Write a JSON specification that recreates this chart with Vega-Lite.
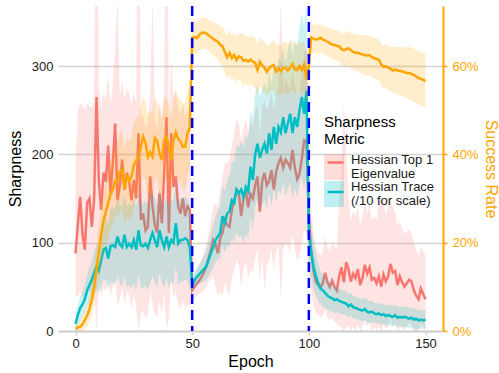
{
"$schema": "https://vega.github.io/schema/vega-lite/v6.json",
"width": 385, "height": 325,
"autosize": "none",
"padding": {"left": 58, "top": 6, "right": 56, "bottom": 42},
"background": "white",
"config": {
  "font": "Liberation Sans",
  "view": {"stroke": null},
  "axis": {"labelFont": "Liberation Sans", "titleFont": "Liberation Sans", "labelFontSize": 13, "titleFontSize": 16, "titleFontWeight": "normal", "labelColor": "#1a1a1a", "titleColor": "#000000"},
  "legend": {"labelFont": "Liberation Sans", "titleFont": "Liberation Sans", "labelFontSize": 13, "titleFontSize": 15, "titleFontWeight": "normal", "labelColor": "#1a1a1a", "titleColor": "#000000", "padding": 0, "rowPadding": 0, "titlePadding": 10, "labelOffset": 7}
},
"data": {"values": [
{"e":0,"t":88,"tl":40,"th":190,"r":8,"rl":0,"rh":18,"s":0.5,"sl":0,"sh":1.5},
{"e":1,"t":120,"tl":40,"th":250,"r":18,"rl":6,"rh":30,"s":0.8,"sl":0,"sh":2},
{"e":2,"t":152,"tl":45,"th":258,"r":26,"rl":12,"rh":40,"s":1,"sl":0,"sh":2.5},
{"e":3,"t":110,"tl":38,"th":255,"r":30,"rl":16,"rh":44,"s":1.5,"sl":0,"sh":3.5},
{"e":4,"t":92,"tl":35,"th":250,"r":36,"rl":20,"rh":52,"s":2.5,"sl":0.5,"sh":4.5},
{"e":5,"t":145,"tl":42,"th":258,"r":46,"rl":28,"rh":64,"s":3.5,"sl":1,"sh":6},
{"e":6,"t":150,"tl":45,"th":255,"r":52,"rl":32,"rh":72,"s":5,"sl":2,"sh":8},
{"e":7,"t":118,"tl":40,"th":252,"r":58,"rl":36,"rh":80,"s":7,"sl":3.5,"sh":10.5},
{"e":8,"t":150,"tl":45,"th":262,"r":66,"rl":42,"rh":90,"s":10,"sl":6,"sh":14},
{"e":9,"t":265,"tl":0,"th":600,"r":73,"rl":48,"rh":98,"s":14,"sl":9,"sh":19},
{"e":10,"t":170,"tl":55,"th":275,"r":68,"rl":42,"rh":96,"s":18,"sl":12,"sh":24},
{"e":11,"t":137,"tl":40,"th":250,"r":80,"rl":50,"rh":110,"s":22,"sl":15,"sh":29},
{"e":12,"t":179,"tl":50,"th":270,"r":92,"rl":58,"rh":126,"s":25,"sl":18,"sh":32},
{"e":13,"t":169,"tl":45,"th":262,"r":94,"rl":58,"rh":130,"s":27,"sl":20,"sh":34},
{"e":14,"t":210,"tl":60,"th":290,"r":82,"rl":46,"rh":120,"s":29,"sl":21,"sh":37},
{"e":15,"t":156,"tl":40,"th":258,"r":96,"rl":56,"rh":138,"s":31,"sl":23,"sh":39},
{"e":16,"t":190,"tl":50,"th":280,"r":97,"rl":55,"rh":140,"s":32,"sl":24,"sh":40},
{"e":17,"t":235,"tl":60,"th":320,"r":95,"rl":52,"rh":138,"s":34,"sl":26,"sh":42},
{"e":18,"t":148,"tl":30,"th":380,"r":107,"rl":62,"rh":150,"s":34,"sl":26,"sh":42.5},
{"e":19,"t":165,"tl":35,"th":265,"r":98,"rl":54,"rh":142,"s":36,"sl":27,"sh":45},
{"e":20,"t":194,"tl":50,"th":285,"r":95,"rl":50,"rh":140,"s":36.5,"sl":28,"sh":45},
{"e":21,"t":160,"tl":30,"th":262,"r":109,"rl":62,"rh":155,"s":32,"sl":24,"sh":41},
{"e":22,"t":179,"tl":45,"th":275,"r":95,"rl":50,"rh":140,"s":35,"sl":26,"sh":44},
{"e":23,"t":170,"tl":40,"th":270,"r":99,"rl":52,"rh":145,"s":34,"sl":25,"sh":43},
{"e":24,"t":148,"tl":25,"th":255,"r":95,"rl":48,"rh":142,"s":35,"sl":26,"sh":44},
{"e":25,"t":171,"tl":40,"th":270,"r":103,"rl":55,"rh":150,"s":37.5,"sl":28,"sh":47},
{"e":26,"t":150,"tl":28,"th":258,"r":92,"rl":45,"rh":140,"s":38.7,"sl":30,"sh":48},
{"e":27,"t":224,"tl":0,"th":600,"r":114,"rl":65,"rh":162,"s":39,"sl":30,"sh":48.5},
{"e":28,"t":126,"tl":20,"th":240,"r":97,"rl":50,"rh":145,"s":41.7,"sl":33,"sh":51},
{"e":29,"t":133,"tl":22,"th":245,"r":96,"rl":48,"rh":144,"s":44,"sl":35,"sh":53},
{"e":30,"t":114,"tl":15,"th":230,"r":99,"rl":52,"rh":148,"s":42.6,"sl":34,"sh":52},
{"e":31,"t":118,"tl":18,"th":235,"r":94,"rl":46,"rh":142,"s":39.4,"sl":30,"sh":49},
{"e":32,"t":175,"tl":45,"th":270,"r":103,"rl":55,"rh":152,"s":40.5,"sl":31,"sh":50},
{"e":33,"t":141,"tl":30,"th":380,"r":111,"rl":62,"rh":160,"s":39.5,"sl":30,"sh":49},
{"e":34,"t":120,"tl":20,"th":240,"r":103,"rl":55,"rh":150,"s":43.7,"sl":35,"sh":53},
{"e":35,"t":111,"tl":15,"th":230,"r":95,"rl":48,"rh":142,"s":43,"sl":34,"sh":52},
{"e":36,"t":156,"tl":35,"th":262,"r":114,"rl":66,"rh":162,"s":40.3,"sl":31,"sh":50},
{"e":37,"t":122,"tl":20,"th":240,"r":103,"rl":55,"rh":150,"s":38.7,"sl":30,"sh":48},
{"e":38,"t":179,"tl":45,"th":275,"r":95,"rl":48,"rh":142,"s":43.2,"sl":34,"sh":52.5},
{"e":39,"t":242,"tl":0,"th":600,"r":107,"rl":60,"rh":154,"s":44,"sl":35,"sh":53},
{"e":40,"t":111,"tl":15,"th":232,"r":95,"rl":48,"rh":142,"s":41.7,"sl":32,"sh":51.5},
{"e":41,"t":224,"tl":60,"th":310,"r":103,"rl":56,"rh":150,"s":38.7,"sl":30,"sh":48},
{"e":42,"t":163,"tl":38,"th":265,"r":100,"rl":52,"rh":148,"s":43.2,"sl":34,"sh":52.5},
{"e":43,"t":175,"tl":45,"th":272,"r":122,"rl":74,"rh":170,"s":45,"sl":36,"sh":54.5},
{"e":44,"t":141,"tl":30,"th":250,"r":99,"rl":52,"rh":146,"s":43.5,"sl":34,"sh":53},
{"e":45,"t":133,"tl":25,"th":245,"r":103,"rl":56,"rh":150,"s":43,"sl":34,"sh":52.5},
{"e":46,"t":150,"tl":35,"th":258,"r":103,"rl":56,"rh":150,"s":41.7,"sl":32,"sh":51.5},
{"e":47,"t":130,"tl":25,"th":242,"r":105,"rl":58,"rh":152,"s":41.7,"sl":32,"sh":51.5},
{"e":48,"t":141,"tl":30,"th":250,"r":103,"rl":56,"rh":150,"s":44.8,"sl":35.5,"sh":54.5},
{"e":49,"t":137,"tl":28,"th":248,"r":95,"rl":48,"rh":142,"s":46,"sl":37,"sh":56},
{"e":50,"t":46,"tl":34,"th":60,"r":52,"rl":44,"rh":62,"s":66.4,"sl":62.5,"sh":70.5},
{"e":51,"t":50,"tl":37,"th":64,"r":57,"rl":48,"rh":67,"s":66.6,"sl":63,"sh":70.5},
{"e":52,"t":54,"tl":40,"th":68,"r":61,"rl":51,"rh":72,"s":66.3,"sl":62.5,"sh":70},
{"e":53,"t":57,"tl":42,"th":74,"r":64,"rl":53,"rh":76,"s":67,"sl":63.5,"sh":70.5},
{"e":54,"t":61,"tl":44,"th":80,"r":67,"rl":55,"rh":80,"s":67.5,"sl":64,"sh":71},
{"e":55,"t":66,"tl":46,"th":88,"r":70,"rl":56,"rh":85,"s":67.6,"sl":64,"sh":71},
{"e":56,"t":73,"tl":50,"th":98,"r":73,"rl":57,"rh":90,"s":67.4,"sl":63.8,"sh":71},
{"e":57,"t":82,"tl":55,"th":110,"r":80,"rl":62,"rh":100,"s":67,"sl":63.5,"sh":70.5},
{"e":58,"t":92,"tl":58,"th":125,"r":88,"rl":66,"rh":110,"s":66.6,"sl":63,"sh":70.2},
{"e":59,"t":103,"tl":62,"th":140,"r":95,"rl":72,"rh":120,"s":66.2,"sl":62.5,"sh":70},
{"e":60,"t":98,"tl":50,"th":145,"r":103,"rl":78,"rh":130,"s":65.8,"sl":62,"sh":69.6},
{"e":61,"t":88,"tl":40,"th":140,"r":107,"rl":80,"rh":136,"s":65.5,"sl":61.5,"sh":69.5},
{"e":62,"t":105,"tl":45,"th":160,"r":111,"rl":82,"rh":142,"s":64.8,"sl":60.5,"sh":69},
{"e":63,"t":111,"tl":40,"th":175,"r":130,"rl":98,"rh":165,"s":64.5,"sl":60,"sh":69},
{"e":64,"t":126,"tl":55,"th":190,"r":122,"rl":88,"rh":158,"s":63.2,"sl":58.5,"sh":68},
{"e":65,"t":120,"tl":45,"th":190,"r":133,"rl":96,"rh":172,"s":62,"sl":57,"sh":67},
{"e":66,"t":118,"tl":42,"th":195,"r":135,"rl":96,"rh":176,"s":63,"sl":58,"sh":68},
{"e":67,"t":137,"tl":60,"th":210,"r":148,"rl":106,"rh":192,"s":61.8,"sl":56.5,"sh":67},
{"e":68,"t":148,"tl":70,"th":225,"r":145,"rl":100,"rh":192,"s":62.5,"sl":57.5,"sh":67.5},
{"e":69,"t":160,"tl":80,"th":240,"r":160,"rl":112,"rh":210,"s":61.4,"sl":56,"sh":66.8},
{"e":70,"t":156,"tl":75,"th":235,"r":156,"rl":106,"rh":208,"s":62.2,"sl":57,"sh":67.5},
{"e":71,"t":130,"tl":50,"th":215,"r":160,"rl":108,"rh":215,"s":62,"sl":56.5,"sh":67.5},
{"e":72,"t":150,"tl":70,"th":230,"r":152,"rl":100,"rh":208,"s":61.2,"sl":55.5,"sh":67},
{"e":73,"t":160,"tl":78,"th":240,"r":163,"rl":110,"rh":222,"s":61.4,"sl":56,"sh":67},
{"e":74,"t":140,"tl":60,"th":225,"r":158,"rl":104,"rh":218,"s":61,"sl":55.5,"sh":66.5},
{"e":75,"t":155,"tl":70,"th":238,"r":186,"rl":130,"rh":250,"s":61.5,"sl":56,"sh":67},
{"e":76,"t":150,"tl":66,"th":232,"r":171,"rl":115,"rh":240,"s":61,"sl":55.5,"sh":66.5},
{"e":77,"t":165,"tl":82,"th":248,"r":200,"rl":140,"rh":268,"s":60.7,"sl":55,"sh":66.5},
{"e":78,"t":175,"tl":92,"th":258,"r":212,"rl":150,"rh":280,"s":59.1,"sl":53.5,"sh":65},
{"e":79,"t":135,"tl":55,"th":220,"r":196,"rl":135,"rh":265,"s":61,"sl":55.5,"sh":66.5},
{"e":80,"t":170,"tl":85,"th":255,"r":205,"rl":142,"rh":275,"s":60.2,"sl":54.5,"sh":66},
{"e":81,"t":179,"tl":46,"th":262,"r":212,"rl":148,"rh":282,"s":59.6,"sl":54,"sh":65.5},
{"e":82,"t":165,"tl":75,"th":250,"r":201,"rl":138,"rh":272,"s":58.7,"sl":53,"sh":64.5},
{"e":83,"t":170,"tl":80,"th":258,"r":224,"rl":158,"rh":296,"s":59.5,"sl":54,"sh":65},
{"e":84,"t":182,"tl":92,"th":270,"r":205,"rl":140,"rh":278,"s":60,"sl":54.5,"sh":65.5},
{"e":85,"t":160,"tl":70,"th":250,"r":231,"rl":162,"rh":305,"s":60.2,"sl":54.5,"sh":66},
{"e":86,"t":180,"tl":90,"th":268,"r":212,"rl":145,"rh":288,"s":58.7,"sl":53,"sh":64.5},
{"e":87,"t":190,"tl":98,"th":278,"r":231,"rl":160,"rh":310,"s":59.5,"sl":54,"sh":65},
{"e":88,"t":196,"tl":35,"th":380,"r":225,"rl":155,"rh":305,"s":58.8,"sl":53,"sh":64.5},
{"e":89,"t":185,"tl":92,"th":272,"r":242,"rl":168,"rh":322,"s":59.6,"sl":54,"sh":65.5},
{"e":90,"t":194,"tl":100,"th":285,"r":224,"rl":152,"rh":305,"s":59.6,"sl":54,"sh":65.5},
{"e":91,"t":190,"tl":95,"th":280,"r":235,"rl":160,"rh":318,"s":59,"sl":53.5,"sh":65},
{"e":92,"t":185,"tl":90,"th":275,"r":246,"rl":168,"rh":330,"s":59.6,"sl":54,"sh":65.5},
{"e":93,"t":205,"tl":110,"th":295,"r":224,"rl":150,"rh":312,"s":60.5,"sl":55,"sh":66},
{"e":94,"t":185,"tl":92,"th":278,"r":242,"rl":162,"rh":330,"s":59.2,"sl":53.5,"sh":65},
{"e":95,"t":172,"tl":80,"th":265,"r":231,"rl":152,"rh":322,"s":59.1,"sl":53.5,"sh":65},
{"e":96,"t":178,"tl":85,"th":272,"r":250,"rl":165,"rh":345,"s":60,"sl":54.5,"sh":65.5},
{"e":97,"t":195,"tl":100,"th":290,"r":265,"rl":175,"rh":360,"s":59.1,"sl":53.5,"sh":65},
{"e":98,"t":216,"tl":115,"th":315,"r":246,"rl":160,"rh":345,"s":60.3,"sl":54.5,"sh":66},
{"e":99,"t":215,"tl":110,"th":320,"r":272,"rl":180,"rh":370,"s":57,"sl":51.5,"sh":62.5},
{"e":100,"t":130,"tl":60,"th":200,"r":110,"rl":70,"rh":150,"s":60,"sl":55,"sh":65},
{"e":101,"t":90,"tl":45,"th":140,"r":90,"rl":60,"rh":122,"s":66.4,"sl":63,"sh":69.5},
{"e":102,"t":68,"tl":30,"th":110,"r":73,"rl":48,"rh":100,"s":66.2,"sl":63,"sh":69.5},
{"e":103,"t":56,"tl":20,"th":95,"r":62,"rl":40,"rh":86,"s":66,"sl":62.8,"sh":69.2},
{"e":104,"t":52,"tl":18,"th":88,"r":54,"rl":34,"rh":76,"s":66.1,"sl":63,"sh":69.3},
{"e":105,"t":50,"tl":15,"th":86,"r":48,"rl":30,"rh":68,"s":66.4,"sl":63.2,"sh":69.5},
{"e":106,"t":54,"tl":18,"th":90,"r":46,"rl":28,"rh":65,"s":66,"sl":62.8,"sh":69.2},
{"e":107,"t":66,"tl":25,"th":108,"r":43,"rl":26,"rh":62,"s":65.8,"sl":62.5,"sh":69},
{"e":108,"t":55,"tl":15,"th":95,"r":40,"rl":24,"rh":58,"s":65.5,"sl":62.2,"sh":68.8},
{"e":109,"t":50,"tl":12,"th":90,"r":38,"rl":22,"rh":55,"s":65.2,"sl":62,"sh":68.5},
{"e":110,"t":57,"tl":15,"th":100,"r":37,"rl":22,"rh":53,"s":64.8,"sl":61.5,"sh":68.2},
{"e":111,"t":50,"tl":10,"th":95,"r":35,"rl":20,"rh":50,"s":64.8,"sl":61.5,"sh":68.2},
{"e":112,"t":46,"tl":8,"th":92,"r":36,"rl":21,"rh":51,"s":64.6,"sl":61.2,"sh":68},
{"e":113,"t":62,"tl":5,"th":150,"r":34,"rl":20,"rh":48,"s":64.5,"sl":61,"sh":68},
{"e":114,"t":72,"tl":5,"th":180,"r":33,"rl":19,"rh":47,"s":63.8,"sl":60,"sh":67.5},
{"e":115,"t":55,"tl":0,"th":262,"r":32,"rl":18,"rh":46,"s":63.6,"sl":59.8,"sh":67.4},
{"e":116,"t":78,"tl":5,"th":200,"r":31,"rl":18,"rh":45,"s":63.8,"sl":60,"sh":67.6},
{"e":117,"t":70,"tl":5,"th":150,"r":28,"rl":15,"rh":42,"s":64,"sl":60,"sh":68},
{"e":118,"t":56,"tl":0,"th":125,"r":30,"rl":17,"rh":43,"s":63.6,"sl":59.6,"sh":67.6},
{"e":119,"t":65,"tl":5,"th":135,"r":27,"rl":14,"rh":40,"s":63.2,"sl":59,"sh":67.4},
{"e":120,"t":60,"tl":0,"th":130,"r":26,"rl":14,"rh":39,"s":63,"sl":58.8,"sh":67.2},
{"e":121,"t":70,"tl":8,"th":140,"r":25,"rl":13,"rh":38,"s":63,"sl":58.8,"sh":67.2},
{"e":122,"t":52,"tl":0,"th":120,"r":24,"rl":12,"rh":37,"s":62.8,"sl":58.5,"sh":67},
{"e":123,"t":60,"tl":5,"th":130,"r":23,"rl":11,"rh":36,"s":62.6,"sl":58.3,"sh":67},
{"e":124,"t":75,"tl":12,"th":148,"r":25,"rl":12,"rh":38,"s":62.5,"sl":58,"sh":67},
{"e":125,"t":65,"tl":5,"th":135,"r":22,"rl":10,"rh":35,"s":62.4,"sl":57.8,"sh":67},
{"e":126,"t":72,"tl":10,"th":142,"r":21,"rl":9,"rh":34,"s":62.5,"sl":58,"sh":67},
{"e":127,"t":58,"tl":0,"th":125,"r":22,"rl":10,"rh":35,"s":62,"sl":57.5,"sh":66.5},
{"e":128,"t":60,"tl":5,"th":130,"r":20,"rl":9,"rh":32,"s":61.8,"sl":57.2,"sh":66.4},
{"e":129,"t":54,"tl":0,"th":125,"r":19,"rl":8,"rh":31,"s":61.6,"sl":57,"sh":66.2},
{"e":130,"t":62,"tl":5,"th":145,"r":20,"rl":9,"rh":32,"s":61.4,"sl":56.8,"sh":66},
{"e":131,"t":50,"tl":0,"th":150,"r":18,"rl":7,"rh":30,"s":60.4,"sl":55.8,"sh":65},
{"e":132,"t":64,"tl":8,"th":145,"r":19,"rl":8,"rh":31,"s":59.8,"sl":55,"sh":64.6},
{"e":133,"t":56,"tl":2,"th":130,"r":17,"rl":6,"rh":29,"s":60,"sl":55,"sh":65},
{"e":134,"t":62,"tl":5,"th":140,"r":18,"rl":7,"rh":30,"s":59.6,"sl":54.6,"sh":64.6},
{"e":135,"t":76,"tl":15,"th":150,"r":17,"rl":6,"rh":29,"s":59.4,"sl":54.3,"sh":64.5},
{"e":136,"t":66,"tl":5,"th":140,"r":16,"rl":5,"rh":28,"s":59,"sl":53.8,"sh":64.2},
{"e":137,"t":68,"tl":8,"th":135,"r":18,"rl":7,"rh":30,"s":59.2,"sl":54,"sh":64.4},
{"e":138,"t":52,"tl":0,"th":120,"r":15,"rl":4,"rh":27,"s":59,"sl":53.6,"sh":64.4},
{"e":139,"t":62,"tl":5,"th":125,"r":16,"rl":5,"rh":28,"s":58.9,"sl":53.4,"sh":64.4},
{"e":140,"t":55,"tl":5,"th":115,"r":15,"rl":4,"rh":27,"s":58.8,"sl":53.2,"sh":64.4},
{"e":141,"t":50,"tl":0,"th":110,"r":16,"rl":5,"rh":28,"s":58.6,"sl":53,"sh":64.2},
{"e":142,"t":54,"tl":5,"th":112,"r":15,"rl":4,"rh":27,"s":58.4,"sl":52.6,"sh":64.2},
{"e":143,"t":58,"tl":10,"th":115,"r":14,"rl":3,"rh":26,"s":58.4,"sl":52.5,"sh":64.3},
{"e":144,"t":56,"tl":8,"th":110,"r":15,"rl":4,"rh":27,"s":58.2,"sl":52.2,"sh":64.2},
{"e":145,"t":46,"tl":0,"th":100,"r":13,"rl":2,"rh":25,"s":58,"sl":52,"sh":64},
{"e":146,"t":40,"tl":0,"th":92,"r":14,"rl":3,"rh":26,"s":57.6,"sl":51.5,"sh":63.7},
{"e":147,"t":36,"tl":0,"th":85,"r":12,"rl":2,"rh":23,"s":57.3,"sl":51.2,"sh":63.4},
{"e":148,"t":48,"tl":8,"th":95,"r":13,"rl":3,"rh":24,"s":57.1,"sl":51,"sh":63.2},
{"e":149,"t":42,"tl":5,"th":90,"r":12,"rl":2,"rh":23,"s":56.9,"sl":50.8,"sh":63},
{"e":150,"t":36,"tl":0,"th":85,"r":13,"rl":3,"rh":24,"s":56.6,"sl":50.5,"sh":62.7}
]},
"encoding": {
  "x": {"field": "e", "type": "quantitative", "title": "Epoch",
    "scale": {"domain": [-7.5, 157.5], "nice": false, "zero": false},
    "axis": {"values": [0, 50, 100, 150], "grid": false, "domainColor": "#d0d0d0", "domainWidth": 2, "tickColor": "#d0d0d0", "tickSize": 4, "tickWidth": 1.5, "labelPadding": 2, "titlePadding": 3, "labelFlush": false}}
},
"layer": [
  {"layer": [
    {"mark": {"type": "area", "opacity": 0.2, "clip": true},
     "encoding": {
       "y": {"field": "tl", "type": "quantitative", "title": "Sharpness",
         "scale": {"domain": [0, 368], "nice": false, "zero": false},
         "axis": {"values": [0, 100, 200, 300], "grid": true, "gridColor": "#d4d4d4", "gridWidth": 1.5, "domain": false, "ticks": false, "labelPadding": 5, "titlePadding": 8}},
       "y2": {"field": "th"},
       "fill": {"datum": "top", "type": "nominal",
         "scale": {"domain": ["top", "trace"], "range": ["#F8766D", "#00BFC4"]},
         "legend": {"title": ["Sharpness", "Metric"], "orient": "none", "legendX": 266, "legendY": 109,
           "labelExpr": "datum.label == 'top' ? ['Hessian Top 1', 'Eigenvalue'] : ['Hessian Trace', '(/10 for scale)']",
           "symbolType": "M-1,-1.3L1,-1.3L1,1.3L-1,1.3Z", "symbolSize": 400, "symbolOpacity": 0.25, "symbolStrokeWidth": 0,
           "encode": {"labels": {"update": {"lineHeight": {"value": 14}, "dy": {"value": -7}}}}}}
     }},
    {"mark": {"type": "line", "strokeWidth": 2.5, "clip": true},
     "encoding": {
       "y": {"field": "t", "type": "quantitative"},
       "stroke": {"datum": "Top", "type": "nominal",
         "scale": {"domain": ["Top", "Trace"], "range": ["#F8766D", "#00BFC4"]},
         "legend": {"title": null, "orient": "none", "legendX": 268, "legendY": 147, "rowPadding": 12.5,
           "labelExpr": "''",
           "symbolType": "stroke", "symbolSize": 256, "symbolStrokeWidth": 2.5}}
     }},
    {"mark": {"type": "area", "opacity": 0.2, "clip": true},
     "encoding": {
       "y": {"field": "rl", "type": "quantitative"},
       "y2": {"field": "rh"},
       "fill": {"datum": "trace", "type": "nominal"}
     }},
    {"mark": {"type": "line", "strokeWidth": 2.5, "clip": true},
     "encoding": {
       "y": {"field": "r", "type": "quantitative"},
       "stroke": {"datum": "Trace", "type": "nominal"}
     }}
  ]},
  {"layer": [
    {"mark": {"type": "area", "color": "#FFA500", "opacity": 0.2, "clip": true},
     "encoding": {
       "y": {"field": "sl", "type": "quantitative", "title": "Success Rate",
         "scale": {"domain": [0, 73.6], "nice": false, "zero": false},
         "axis": {"orient": "right", "values": [0, 20, 40, 60], "labelExpr": "datum.value + '%'", "grid": false,
           "domainColor": "#FFA500", "domainWidth": 2, "tickColor": "#FFA500", "tickSize": 4, "tickWidth": 1.5,
           "labelColor": "#FFA500", "titleColor": "#FFA500", "labelPadding": 5, "titlePadding": 4}},
       "y2": {"field": "sh"}
     }},
    {"mark": {"type": "line", "color": "#FFA500", "strokeWidth": 2.5, "clip": true},
     "encoding": {"y": {"field": "s", "type": "quantitative"}}}
  ]},
  {"data": {"values": [{"v": 50}, {"v": 100}]},
   "mark": {"type": "rule", "color": "#0000FF", "strokeWidth": 2.5, "strokeDash": [10, 6]},
   "encoding": {"x": {"field": "v", "type": "quantitative", "title": "Epoch"}}}
],
"resolve": {"scale": {"y": "independent"}}
}
